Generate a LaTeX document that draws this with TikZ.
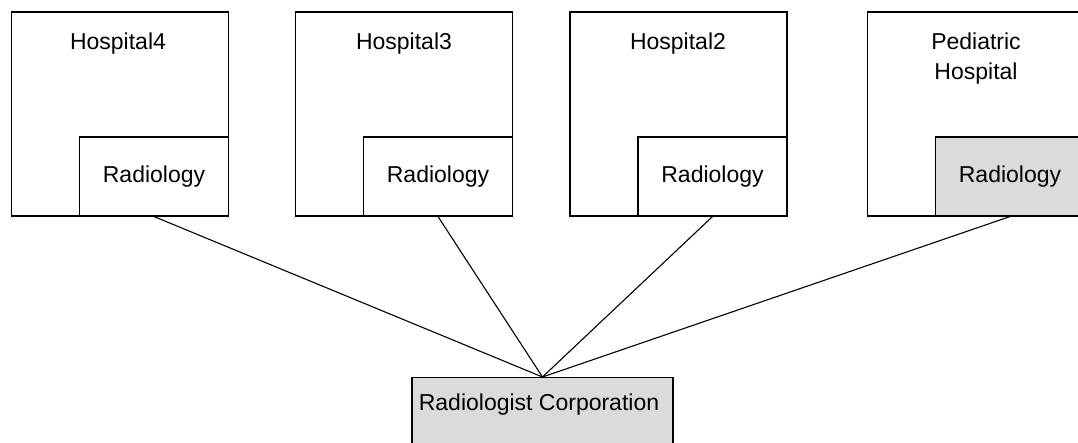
\documentclass[tikz,border=0pt]{standalone}
\usepackage{fontspec}
\setmainfont{Liberation Sans}
\begin{document}
\begin{tikzpicture}[x=1pt, y=-1pt, line width=1.1pt,
  every node/.style={font=\fontsize{23}{30}\selectfont},
  hosp node/.style={draw, minimum width=217pt, minimum height=204pt, inner sep=0pt},
  dept node/.style={draw, fill=white, minimum width=149pt, minimum height=79pt, inner sep=0pt, anchor=south east},
  title node/.style={anchor=base, align=center, inner sep=0pt},
  shaded/.style={fill=gray!28}]
\useasboundingbox (0,0) rectangle (1078,443);
\begin{scope}
\node[hosp node] (h4) at (120,114) {};
\node[hosp node] (h3) at (404,114) {};
\node[hosp node] (h2) at (678.5,114) {};
\node[hosp node] (hp) at (976,114) {};
\end{scope}
\node[title node] (t4) at (118,50) {Hospital4};
\node[title node] (t3) at (404,50) {Hospital3};
\node[title node] (t2) at (678,50) {Hospital2};
\node[title node] (tp) at (976,80) {Pediatric\\Hospital};
\node[dept node] (r4) at (h4.south east) {Radiology};
\node[dept node] (r3) at (h3.south east) {Radiology};
\node[dept node] (r2) at (h2.south east) {Radiology};
\node[dept node, shaded] (rp) at (hp.south east) {Radiology};
\node[draw, shaded, minimum width=261pt, minimum height=130pt, anchor=north] (corp) at (542.5,377) {};
\node[title node] (ct) at (539,410) {Radiologist Corporation};
\draw (r4.south) edge (corp.north);
\draw (r3.south) edge (corp.north);
\draw (r2.south) edge (corp.north);
\draw (rp.south) edge (corp.north);
\end{tikzpicture}
\end{document}
